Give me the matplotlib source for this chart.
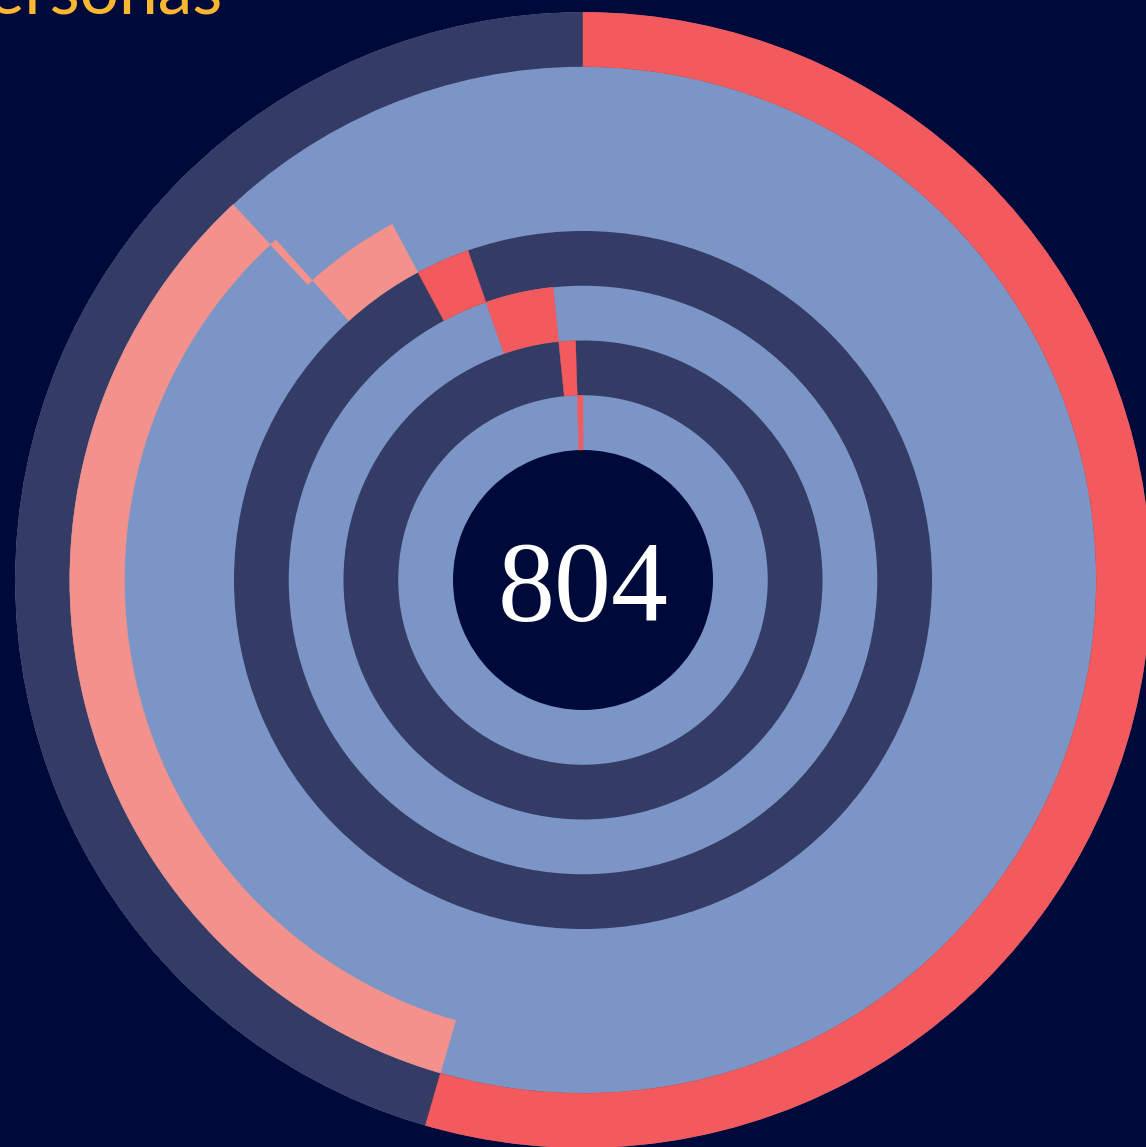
import numpy as np
import matplotlib
matplotlib.use("Agg")
import matplotlib.pyplot as plt

# counts per group, outermost ring first; each ring's arc starts where the previous one ends
groups = ["A", "B", "C", "D", "E", "F", "G", "H"]
counts = [438, 270, 2, 31, 20, 30, 9, 4]
total = 804
title = "Personas"

bg = "#000a3a"
dark = "#343b65"
light = "#7a95c6"
red = "#f25a5e"
salmon = "#f3918d"
ring_base = [dark, light, light, light, dark, light, dark, light]
ring_hi = [red, salmon, salmon, salmon, red, red, red, red]

W, H = 1146, 1147
fig = plt.figure(figsize=(W / 100, H / 100), dpi=100, facecolor=bg)

# polar axes centred at (583, 580) px with outer radius 568 px
cx, cy, R = 583, 580, 568
ax = fig.add_axes([(cx - R) / W, (H - cy - R) / H, 2 * R / W, 2 * R / H],
                  projection="polar")
ax.set_theta_zero_location("N")
ax.set_theta_direction(-1)
ax.set_ylim(0, R)
ax.set_facecolor(bg)
ax.axis("off")

r_in = 130
ring_w = (R - r_in) / len(counts)

# one light band under everything so neighbouring light rings have no seams
ax.bar(0, R - r_in, width=2 * np.pi, bottom=r_in, align="edge",
       color=light, linewidth=0)

start = 0
for i, n in enumerate(counts):
    bottom = R - (i + 1) * ring_w
    if ring_base[i] != light:
        ax.bar(0, ring_w, width=2 * np.pi, bottom=bottom, align="edge",
               color=ring_base[i], linewidth=0)
    th0 = start / total * 2 * np.pi
    dth = n / total * 2 * np.pi
    ax.bar(th0, ring_w, width=dth, bottom=bottom, align="edge",
           color=ring_hi[i], edgecolor=ring_hi[i], linewidth=0.3)
    start += n

fig.text(cx / W, 1 - 621 / H, str(total), ha="center", va="baseline",
         color="white", fontsize=82, family="Liberation Serif")

fig.text(223 / W, 1 - 14 / H, title, ha="right", va="baseline",
         color="#fbb731", fontsize=50, family="Lato")

fig.savefig("out.png", dpi=100, facecolor=bg)
